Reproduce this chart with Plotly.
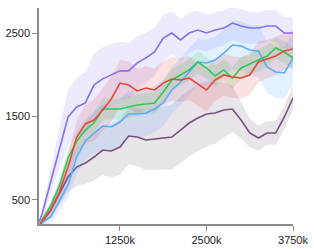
import plotly.graph_objects as go

# x in thousands of steps
steps = [80, 125, 250, 375, 500, 625, 750, 875, 1000, 1125, 1250, 1375, 1500, 1625, 1750,
         1875, 2000, 2125, 2250, 2375, 2500, 2625, 2750, 2875, 3000, 3125, 3250, 3375,
         3500, 3625, 3750]

purple = [230, 330, 720, 1110, 1494, 1613, 1662, 1878, 1950, 1998, 2046, 2046, 2142, 2202,
          2274, 2440, 2500, 2418, 2500, 2536, 2500, 2536, 2560, 2620, 2584, 2560, 2560,
          2584, 2584, 2500, 2500]
red = [180, 250, 378, 594, 894, 1253, 1410, 1457, 1577, 1709, 1900, 1877, 1805, 1841, 1817,
       1900, 1949, 1937, 1960, 1889, 1817, 1937, 1997, 1973, 1960, 1997, 2152, 2188, 2224,
       2284, 2308]
green = [190, 260, 426, 666, 1001, 1205, 1337, 1421, 1589, 1589, 1589, 1613, 1637, 1649,
         1661, 1793, 1937, 1997, 2057, 2152, 2081, 1985, 2057, 1960, 2081, 2129, 2176, 2224,
         2320, 2272, 2200]
blue = [180, 230, 294, 486, 678, 1013, 1205, 1301, 1385, 1373, 1433, 1529, 1529, 1541, 1589,
        1661, 1817, 1913, 2033, 2152, 2140, 2176, 2260, 2356, 2344, 2296, 2284, 2093, 2033,
        2021, 2200]
dark = [170, 234, 378, 582, 774, 893, 941, 1013, 1097, 1085, 1133, 1265, 1253, 1217, 1229,
        1241, 1253, 1337, 1421, 1481, 1529, 1541, 1577, 1589, 1457, 1301, 1241, 1301, 1301,
        1493, 1721]

purple_sd = [0, 60, 150, 250, 330, 350, 370, 380, 380, 370, 350, 330, 320, 300, 290, 280, 260,
             250, 240, 230, 220, 210, 210, 200, 200, 190, 190, 190, 190, 190, 190]
red_sd = [0, 40, 80, 120, 160, 200, 230, 250, 260, 270, 280, 280, 270, 260, 260, 260, 260, 260,
          260, 260, 260, 250, 250, 250, 250, 240, 240, 230, 230, 220, 220]
green_sd = [0, 30, 60, 90, 110, 120, 130, 130, 130, 130, 130, 130, 130, 130, 130, 130, 130, 130,
            130, 130, 130, 130, 130, 130, 130, 130, 130, 130, 130, 130, 130]
blue_sd = [0, 40, 80, 120, 160, 200, 230, 250, 260, 270, 280, 280, 280, 280, 280, 280, 280, 280,
           280, 280, 280, 280, 280, 290, 300, 300, 310, 310, 310, 310, 310]
dark_sd = [0, 40, 90, 140, 180, 220, 250, 280, 300, 320, 330, 340, 350, 360, 370, 380, 390, 400,
           400, 400, 390, 370, 330, 280, 220, 170, 150, 140, 140, 140, 140]

x_tickvals = [1250, 2500, 3750]
x_ticktext = ["1250k", "2500k", "3750k"]
y_tickvals = [500, 1500, 2500]
y_ticktext = ["500", "1500", "2500"]

series = [
    ("dark", dark, dark_sd, "#76517f", "rgba(118,81,127,0.16)"),
    ("blue", blue, blue_sd, "#5cabff", "rgba(92,171,255,0.18)"),
    ("green", green, green_sd, "#2fc65a", "rgba(47,198,90,0.16)"),
    ("red", red, red_sd, "#e8463c", "rgba(232,70,60,0.16)"),
    ("purple", purple, purple_sd, "#8272f2", "rgba(130,114,242,0.15)"),
]

fig = go.Figure()
for name, vals, sd, col, fill in series:
    up = [v + s for v, s in zip(vals, sd)]
    lo = [v - s for v, s in zip(vals, sd)]
    fig.add_trace(go.Scatter(x=steps + steps[::-1], y=up + lo[::-1], fill="toself",
                             fillcolor=fill, line=dict(width=0), mode="lines",
                             hoverinfo="skip", showlegend=False))
for name, vals, sd, col, fill in series:
    fig.add_trace(go.Scatter(x=steps, y=vals, mode="lines", name=name,
                             line=dict(color=col, width=1.6), showlegend=False))

axis_common = dict(showgrid=False, zeroline=False, showline=True, linecolor="#8a8a8a",
                   linewidth=1.5, ticks="outside", tickcolor="#8a8a8a", ticklen=5,
                   tickwidth=1, automargin=False,
                   tickfont=dict(family="Liberation Sans, Arial", size=11, color="#222"))
fig.update_xaxes(range=[80, 3750], tickvals=x_tickvals, ticktext=x_ticktext, **axis_common)
fig.update_yaxes(range=[210, 2800], tickvals=y_tickvals, ticktext=y_ticktext, **axis_common)
fig.update_layout(width=314, height=249, margin=dict(l=39, r=21, t=8, b=25),
                  plot_bgcolor="white", paper_bgcolor="white", hovermode=False)
fig.write_html("out.html", config={"displayModeBar": False},
               post_script="document.body.style.margin='0';document.body.style.overflow='hidden';")
